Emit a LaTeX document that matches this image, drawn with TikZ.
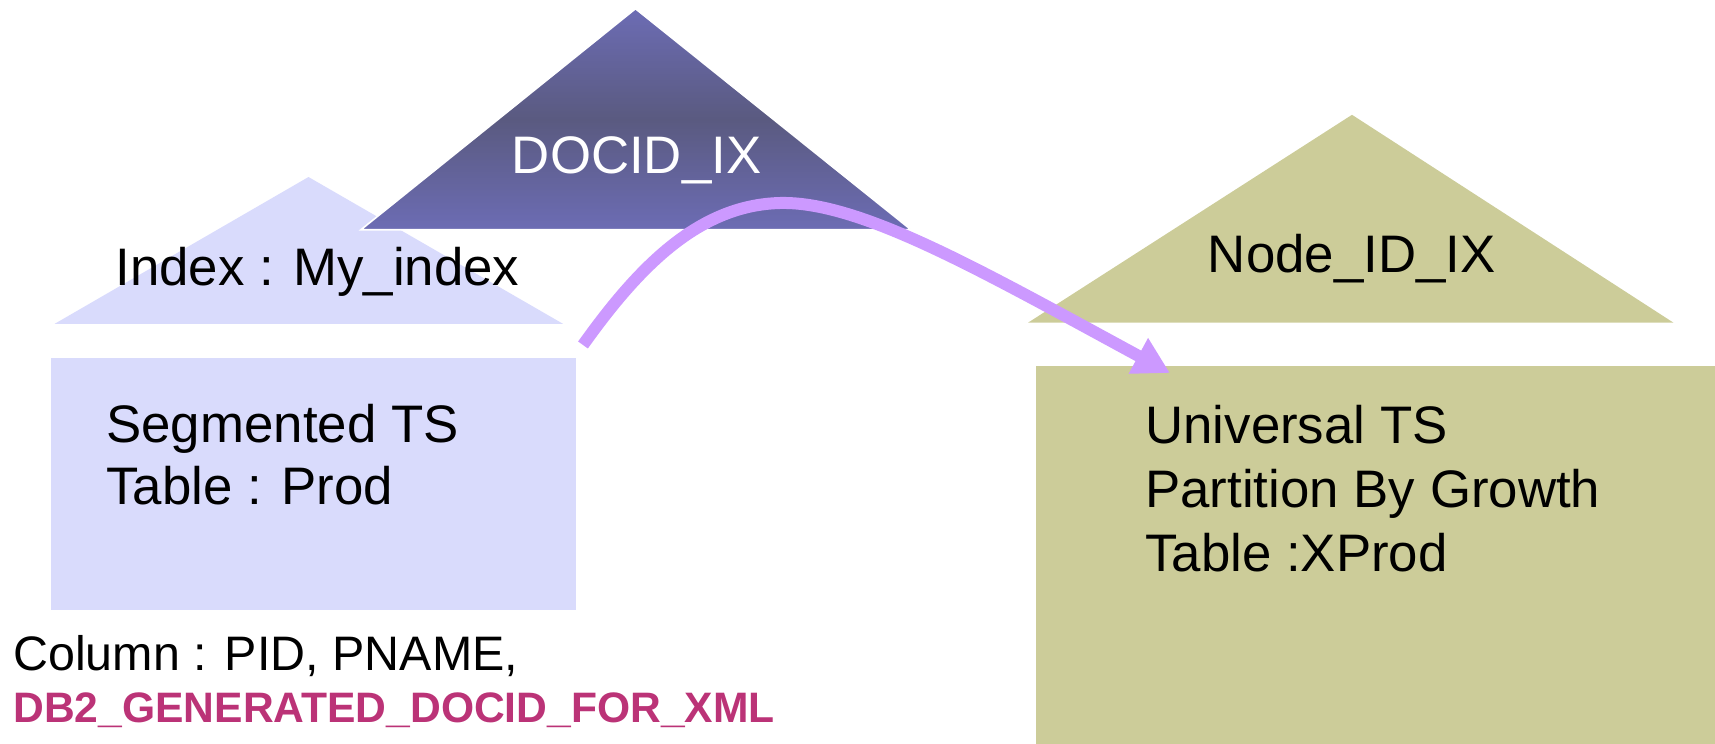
\documentclass[tikz,border=0pt]{standalone}
\usepackage{fontspec}
\setmainfont{Liberation Sans}
\usetikzlibrary{arrows.meta}
\definecolor{lav}{HTML}{D9DBFC}
\definecolor{khaki}{HTML}{CCCC99}
\definecolor{triA}{HTML}{6C6CB4}
\definecolor{triB}{HTML}{5A5A80}
\definecolor{lilac}{HTML}{CC99FF}
\definecolor{mag}{HTML}{BB3377}
\tikzset{lbl/.style={inner sep=0pt, anchor=base west, font=\fontsize{26.4}{31}\selectfont}}
\begin{document}
\begin{tikzpicture}[x=0.5pt,y=-0.5pt]
\useasboundingbox (0,0) rectangle (1715,744);
\fill[lav] (54.7,323.8) -- (308.5,177) -- (563,323.8) -- cycle;
\shadedraw[top color=triA, bottom color=triA, middle color=triB, draw=white, line width=0.8pt] (361,229.7) -- (635.5,8.75) -- (911,229.7) -- cycle;
\fill[lav] (51.4,357.7) rectangle (576.4,610);
\fill[khaki] (1028,322.7) -- (1352,114.8) -- (1673.5,322.7) -- cycle;
\fill[khaki] (1036,366.4) rectangle (1715,744);
\node[lbl, text=white, anchor=base] (docid) at (636.6,173) {DOCID\_IX};
\node[lbl] (myidx) at (115,285.5) {Index : My\_index};
\node[lbl] (seg1) at (106,442) {Segmented TS};
\node[lbl] (seg2) at (106,504) {Table : Prod};
\node[lbl] (nodeid) at (1207.5,272) {Node\_ID\_IX};
\node[lbl] (uni1) at (1145,443) {Universal TS};
\node[lbl] (uni2) at (1145,507.5) {Partition By Growth};
\node[lbl] (uni3) at (1145,571) {Table :XProd};
\node[lbl, font=\fontsize{24.2}{29}\selectfont] (col1) at (13,670.5) {Column : PID, PNAME,};
\node[lbl, font=\fontsize{21.3}{26}\selectfont\bfseries, text=mag] (col2) at (13,722) {DB2\_GENERATED\_DOCID\_FOR\_XML};
\coordinate (as) at (583,345);
\coordinate (ap) at (780,203);
\coordinate (ae) at (1170,373);
\draw[lilac, line width=6pt, -{Triangle[length=18pt,width=19pt]}] (as) .. controls (640,265) and (700,205) .. (ap) .. controls (860,201) and (980,270) .. (ae);
\end{tikzpicture}
\end{document}
